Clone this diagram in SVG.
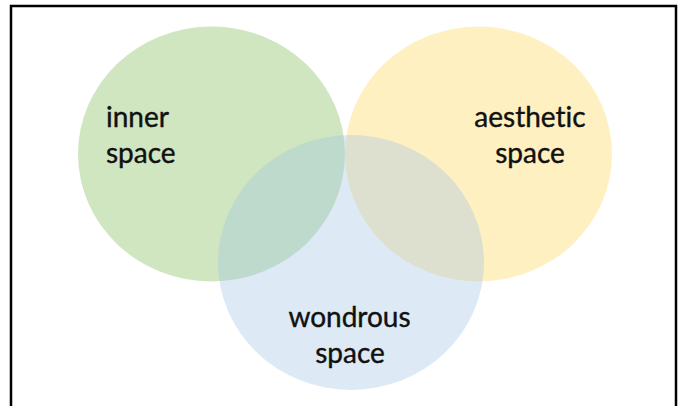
<svg xmlns="http://www.w3.org/2000/svg" width="680" height="406" viewBox="0 0 680 406">
  <style>
    .lbl { font-family: Lato, "Open Sans", "Liberation Sans", sans-serif; font-size: 28px; fill: #111111; stroke: #111111; stroke-width: 0.4px; font-variant-ligatures: none; font-feature-settings: "liga" 0; }
    .mid { text-anchor: middle; }
  </style>
  <rect x="0" y="0" width="680" height="406" fill="#ffffff"/>
  <rect x="11" y="6" width="665" height="420" fill="none" stroke="#000000" stroke-width="2.5"/>
  <g id="inner-space">
    <ellipse cx="211.5" cy="154" rx="133.5" ry="127.5" fill="#a9d18e" fill-opacity="0.55"/>
    <text class="lbl" x="106" y="127">inner</text>
    <text class="lbl" x="106" y="163">space</text>
  </g>
  <g id="aesthetic-space">
    <ellipse cx="478.5" cy="154" rx="133.5" ry="127.5" fill="#ffd966" fill-opacity="0.4"/>
    <text class="lbl mid" x="530" y="127">aesthetic</text>
    <text class="lbl mid" x="530" y="163">space</text>
  </g>
  <g id="wondrous-space">
    <ellipse cx="351" cy="262.5" rx="133" ry="127.5" fill="#9dc3e6" fill-opacity="0.35"/>
    <text class="lbl mid" x="349.5" y="327">wondrous</text>
    <text class="lbl mid" x="350" y="363">space</text>
  </g>
  <g id="connectors"/>
</svg>
